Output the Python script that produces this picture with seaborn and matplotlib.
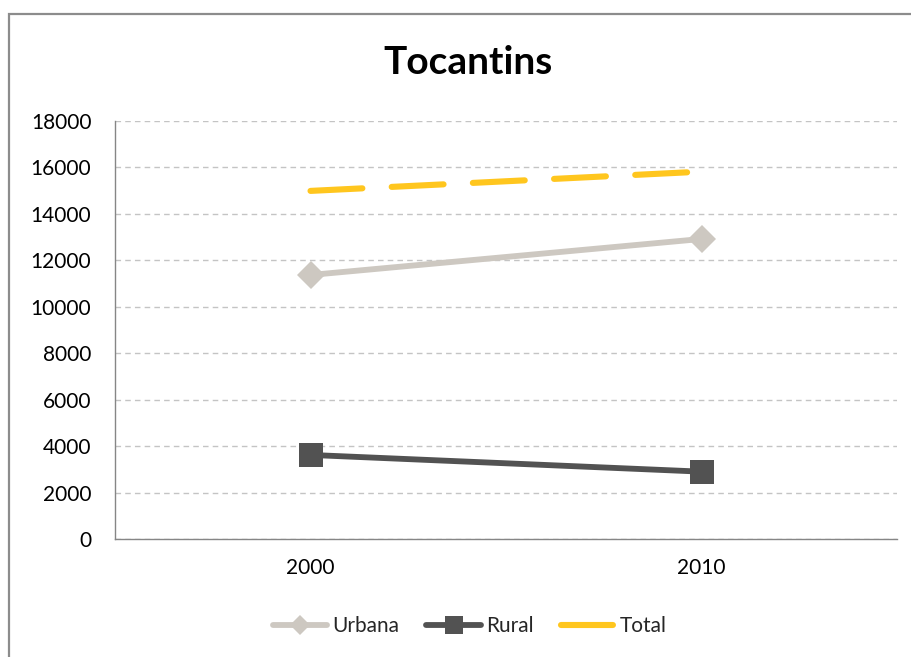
import pandas as pd
import matplotlib.pyplot as plt
import seaborn as sns
from matplotlib.patches import Rectangle
from matplotlib.ticker import FixedLocator, NullFormatter

# Data
anos = ["2000", "2010"]
urbana = [11370, 12920]
rural = [3620, 2900]
total = [14990, 15820]

df = pd.DataFrame({"Ano": anos, "Urbana": urbana, "Rural": rural, "Total": total})

sns.set_theme(style="white")
plt.rcParams['font.family'] = ['Lato', 'DejaVu Sans']

fig = plt.figure(figsize=(9.11, 6.57), dpi=100)
ax = fig.add_axes([115 / 911, 1 - 539 / 657, (897 - 115) / 911, (539 - 121) / 657])

# chart border (only top and left are visible in the original)
fig.patches.append(Rectangle((9 / 911, -0.1), 1.2, 1.1 - 14 / 657, transform=fig.transFigure,
                             fill=False, edgecolor="#8c8c8c", linewidth=1.6))

x = list(range(len(anos)))
sns.lineplot(x=x, y=df["Urbana"], ax=ax, color="#cdc8c1", linewidth=4.2, marker="D",
             markersize=14, markeredgewidth=0, label="Urbana")
sns.lineplot(x=x, y=df["Rural"], ax=ax, color="#525252", linewidth=4.2, marker="s",
             markersize=17, markeredgewidth=0, label="Rural")
sns.lineplot(x=x, y=df["Total"], ax=ax, color="#ffc61e", linewidth=4.4,
             label="Total")
tl = ax.get_lines()[-1]
tl.set_dashes((8.5, 4.8))
tl.set_dash_capstyle("round")
for ln in ax.get_lines()[:2]:
    ln.set_solid_capstyle("round")

ax.set_xlim(-0.5, 1.5)
ax.set_ylim(0, 18000)
ax.set_yticks(range(0, 18001, 2000))
ax.set_xticks(x)
ax.set_xticklabels(anos)
ax.xaxis.set_minor_locator(FixedLocator([-0.5, 0.5, 1.5]))
ax.xaxis.set_minor_formatter(NullFormatter())
ax.tick_params(axis="x", which="major", length=0, pad=14, labelsize=15, colors="black")
ax.tick_params(axis="x", which="minor", length=7, width=1, color="#868686", direction="out")
ax.tick_params(axis="y", length=7, width=1, color="#868686", direction="out", pad=10,
               labelsize=15, colors="black")
ax.tick_params(axis="y", colors="#868686", labelcolor="black")
ax.set_xlabel("")
ax.set_ylabel("")

ax.yaxis.grid(True, linestyle=(0, (4, 3)), color="#c4c4c4", linewidth=1)
ax.xaxis.grid(False)
ax.set_axisbelow(True)
for s in ["top", "right"]:
    ax.spines[s].set_visible(False)
for s in ["left", "bottom"]:
    ax.spines[s].set_color("#868686")
    ax.spines[s].set_linewidth(1)

fig.text(468 / 911, 1 - 63 / 657, "Tocantins", ha="center", va="center",
         fontsize=28, fontweight="bold", color="black")

ax.legend(loc="center", bbox_to_anchor=(470 / 911, 1 - 626 / 657), bbox_transform=fig.transFigure,
          ncol=3, frameon=False, fontsize=15, handlelength=2.6, handletextpad=0.25,
          columnspacing=1.3, markerscale=0.75)

plt.savefig("out.png", dpi=100)
plt.close()
